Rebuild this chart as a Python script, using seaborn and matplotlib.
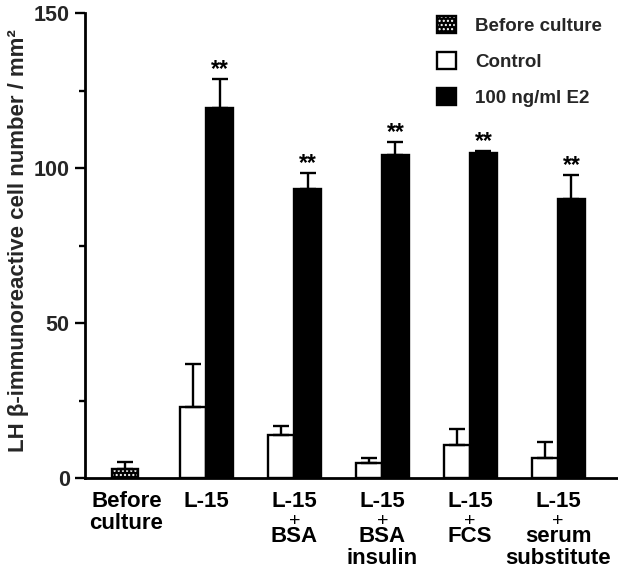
import numpy as np
import pandas as pd
import matplotlib
matplotlib.use("Agg")
import matplotlib.pyplot as plt
import matplotlib.transforms as mtransforms
from matplotlib.patches import Patch
from matplotlib.legend_handler import HandlerTuple
from matplotlib.ticker import MultipleLocator
import seaborn as sns

# ---- data ----
categories = ["Before\nculture", "L-15", "L-15\n+\nBSA", "L-15\n+\nBSA\ninsulin",
              "L-15\n+\nFCS", "L-15\n+\nserum\nsubstitute"]
before_mean = [2.8]
before_err = [2.3]
control_mean = [23.0, 13.8, 5.0, 10.8, 6.6]
control_err = [13.7, 3.0, 1.5, 5.0, 4.9]
e2_mean = [119.2, 93.1, 104.1, 104.7, 89.9]
e2_err = [9.6, 5.3, 4.4, 0.9, 7.8]
series_names = ["Before culture", "Control", "100 ng/ml E2"]
y_ticks = [0, 50, 100, 150]
star_label = "**"

sns.set_theme(style="white")
plt.rcParams["font.family"] = ["Liberation Sans", "DejaVu Sans"]
plt.rcParams["font.weight"] = "bold"
plt.rcParams["hatch.linewidth"] = 1.0

DPI = 100
fig = plt.figure(figsize=(6.18, 5.69), dpi=DPI)
ax = fig.add_axes([85 / 618, 91 / 569, 533 / 618, 465 / 569])

n = len(control_mean)
group_pos = np.arange(1, n + 1)
before_pos = 0.074

df = pd.DataFrame({
    "pos": np.concatenate([group_pos, group_pos]),
    "value": control_mean + e2_mean,
    "series": [series_names[1]] * n + [series_names[2]] * n,
})

sns.barplot(data=df, x="pos", y="value", hue="series", native_scale=True,
            hue_order=series_names[1:], palette=["white", "black"], saturation=1,
            width=0.6, errorbar=None, edgecolor="black", linewidth=1.7,
            legend=False, ax=ax)

bdf = pd.DataFrame({"pos": [before_pos], "value": before_mean})
sns.barplot(data=bdf, x="pos", y="value", native_scale=True, color="black",
            saturation=1, width=0.3, errorbar=None, edgecolor="white",
            hatch="....", linewidth=0, ax=ax)
sns.barplot(data=bdf, x="pos", y="value", native_scale=True, fill=False,
            color="black", width=0.3, errorbar=None, linewidth=1.7, ax=ax)

# error bars (upper only)
ekw = dict(fmt="none", ecolor="black", elinewidth=1.7, capsize=6, capthick=1.7, zorder=3)
ax.errorbar([before_pos], before_mean, yerr=[[0], before_err], **ekw)
ax.errorbar(group_pos - 0.15, control_mean, yerr=[np.zeros(n), control_err], **ekw)
ax.errorbar(group_pos + 0.15, e2_mean, yerr=[np.zeros(n), e2_err], **ekw)

for x, m, e in zip(group_pos + 0.15, e2_mean, e2_err):
    ax.text(x, m + e + 3.0, star_label, ha="center", va="center",
            fontsize=16.5, fontweight="bold", color="black")

ax.set_xlim(-0.38, 5.68)
ax.set_ylim(0, 150)
tick_pos = [0.09] + list(group_pos)
ax.set_xticks(tick_pos)
ax.set_xticklabels([""] * len(tick_pos))
ax.tick_params(axis="x", length=0)

# category labels drawn line by line below the axis ("+" lines are smaller)
xtrans = ax.get_xaxis_transform()


def put(x, txt, px, **kw):
    tr = mtransforms.offset_copy(xtrans, fig=fig, y=-px * 72 / DPI, units="points")
    ax.text(x, 0, txt, transform=tr, ha="center", va="baseline", color="black", **kw)


for x, lab in zip(tick_pos, categories):
    y_px = 29
    lines = lab.split("\n")
    for i, line in enumerate(lines):
        if line == "+":
            put(x, "+", y_px + 19, fontsize=14, fontweight="normal")
            y_px += 35
        else:
            put(x, line, y_px, fontsize=16, fontweight="bold")
            if i + 1 < len(lines) and lines[i + 1] != "+":
                y_px += 22

ax.set_yticks(y_ticks)
ax.set_yticklabels([str(t) for t in y_ticks], fontsize=15.5, fontweight="bold")
ax.yaxis.set_minor_locator(MultipleLocator(25))
ax.tick_params(axis="y", which="major", length=7, width=1.7, direction="out",
               left=True, pad=4, color="black")
ax.tick_params(axis="y", which="minor", length=4, width=1.7, direction="out",
               left=True, color="black")
ax.set_xlabel("")
ax.set_ylabel("LH \u03b2-immunoreactive cell number / mm\u00b2", fontsize=16,
              fontweight="bold", labelpad=6)
ax.yaxis.set_label_coords(-0.105, 0.51)

for s in ["top", "right"]:
    ax.spines[s].set_visible(False)
for s in ["left", "bottom"]:
    ax.spines[s].set_color("black")
    ax.spines[s].set_linewidth(2.0)

handles = [
    (Patch(facecolor="black", edgecolor="white", hatch="....", linewidth=0),
     Patch(fill=False, edgecolor="black", linewidth=1.7)),
    Patch(facecolor="white", edgecolor="black", linewidth=1.7),
    Patch(facecolor="black", edgecolor="black", linewidth=1.7),
]
fig.legend(handles, series_names, loc="upper left",
           bbox_to_anchor=(437 / 618, 1 - 16 / 569), frameon=False,
           prop={"weight": "bold", "size": 13.5},
           handlelength=1.0, handleheight=1.05, handletextpad=1.05,
           labelspacing=0.9, borderpad=0, borderaxespad=0,
           handler_map={tuple: HandlerTuple(ndivide=1)})

fig.savefig("out.png", dpi=DPI)
